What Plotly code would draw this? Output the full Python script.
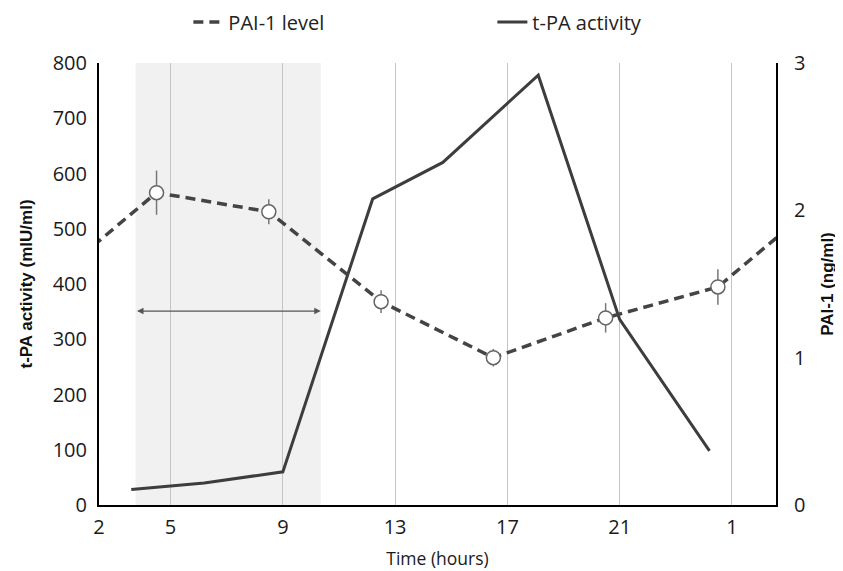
import plotly.graph_objects as go

# ---- data (hours on a continuous clock; 25 = 1 o'clock next day) ----
tpa_hours = [3.6, 6.2, 9.0, 12.2, 14.7, 18.1, 21.0, 24.2]
tpa_values = [28, 40, 60, 554, 620, 778, 336, 98]

pai_hours = [4.5, 8.5, 12.5, 16.5, 20.5, 24.5]
pai_values = [2.12, 1.99, 1.38, 1.00, 1.27, 1.48]
pai_errors = [0.15, 0.085, 0.077, 0.06, 0.10, 0.12]

# circadian wrap-around of the PAI-1 curve beyond the axis edges
pai_line_hours = [0.5] + pai_hours + [28.5]
pai_line_values = [pai_values[-1]] + pai_values + [pai_values[0]]

x_tickvals = [2.45, 5, 9, 13, 17, 21, 25]
x_ticktext = ["2", "5", "9", "13", "17", "21", "1"]

shade_start, shade_end = 3.75, 10.35
arrow_level = 351

tick_font = dict(family="Open Sans", size=20, color="#1a1a1a")
title_font = dict(family="Liberation Sans", size=17, color="#111111", weight="bold")

fig = go.Figure()

fig.add_trace(go.Scatter(
    x=pai_line_hours, y=pai_line_values, yaxis="y2", mode="lines",
    line=dict(color="#444444", width=3.5, dash="10px,6px"),
    name="PAI-1 level", showlegend=True, hoverinfo="skip",
))
fig.add_trace(go.Scatter(
    x=tpa_hours, y=tpa_values, mode="lines",
    line=dict(color="#3d3d3d", width=3),
    name="t-PA activity",
))
fig.add_trace(go.Scatter(
    x=pai_hours, y=pai_values, yaxis="y2", mode="markers",
    marker=dict(symbol="circle", size=14, color="white",
                line=dict(color="#666666", width=1.5)),
    error_y=dict(type="data", array=pai_errors, color="#777777",
                 thickness=1.5, width=0),
    showlegend=False, name="PAI-1 level",
))

fig.add_shape(type="rect", xref="x", yref="paper",
              x0=shade_start, x1=shade_end, y0=0, y1=1,
              fillcolor="#f1f1f1", line=dict(width=0), layer="below")

fig.add_annotation(x=shade_end, y=arrow_level, ax=shade_start, ay=arrow_level,
                   xref="x", yref="y", axref="x", ayref="y",
                   text="", showarrow=True, arrowside="end+start",
                   arrowhead=2, arrowsize=1, arrowwidth=1.3, arrowcolor="#555555")

fig.update_layout(
    width=835, height=563,
    margin=dict(l=91, r=67, t=55, b=66, autoexpand=False),
    paper_bgcolor="white", plot_bgcolor="white",
    showlegend=True,
    legend=dict(orientation="h", x=0.132, xanchor="left", y=1.0928, yanchor="middle",
                font=dict(family="Open Sans", size=20, color="#222222"),
                entrywidth=259, bgcolor="rgba(0,0,0,0)"),
    xaxis=dict(range=[2.45, 26.57], tickvals=x_tickvals, ticktext=x_ticktext,
               showgrid=True, gridcolor="#c4c4c4", gridwidth=1,
               showline=True, linecolor="black", linewidth=2,
               ticks="", tickfont=tick_font, zeroline=False, automargin=False,
               ticklabelstandoff=3,
               title=dict(text="Time (hours)", standoff=14,
                          font=dict(family="Open Sans", size=17.5, color="#1a1a1a"))),
    yaxis=dict(range=[0, 800], dtick=100, showgrid=False, zeroline=False,
               showline=True, linecolor="black", linewidth=2, ticks="",
               tickfont=tick_font, ticklabelstandoff=6, automargin=False,
               title=dict(text="t-PA activity (mIU/ml)", font=title_font, standoff=16)),
    yaxis2=dict(range=[0, 3], dtick=1, overlaying="y", side="right",
                showgrid=False, zeroline=False, showline=True, linecolor="black",
                linewidth=2, ticks="", tickfont=tick_font, ticklabelstandoff=12,
                automargin=False,
                title=dict(text="PAI-1 (ng/ml)", font=title_font, standoff=17)),
)

fig.write_html("out.html")
